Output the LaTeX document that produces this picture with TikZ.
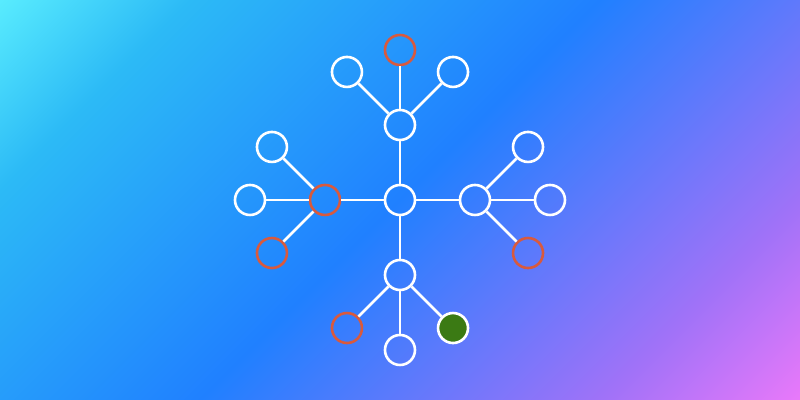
\documentclass[tikz,border=0pt]{standalone}
\usepackage{xcolor}
\usepackage{tikz}
\usetikzlibrary{positioning}

\definecolor{bgcyan}{HTML}{60F4FF}
\definecolor{bgsky}{HTML}{2CBAF6}
\definecolor{bgblue}{HTML}{2080FF}
\definecolor{bgviolet}{HTML}{A072F8}
\definecolor{bgpink}{HTML}{F57AFA}
\definecolor{nodered}{HTML}{D85A3E}
\definecolor{nodegreen}{HTML}{3B7A14}

\pgfdeclarehorizontalshading{bgshade}{100bp}{color(0bp)=(bgcyan); color(12.5bp)=(bgcyan); color(25.7bp)=(bgsky); color(50bp)=(bgblue); color(73.8bp)=(bgviolet); color(87.5bp)=(bgpink); color(100bp)=(bgpink)}

\begin{document}
\begin{tikzpicture}[
    x=0.5pt, y=0.5pt,
    leaf/.style={circle, draw=white, line width=1.3pt, minimum size=15pt, inner sep=0pt},
    redleaf/.style={leaf, draw=nodered},
    greenleaf/.style={leaf, fill=nodegreen},
    link/.style={draw=white, line width=1.3pt}
]

% Background
\shade[shading=bgshade, shading angle=-45] (-400,-200) rectangle (400,200);
\useasboundingbox (-400,-200) rectangle (400,200);

% Nodes
\node[leaf] (root) at (0,0) {};
\node[leaf] (top) at (90:75) {};
\node[redleaf] (left) at (180:75) {};
\node[leaf] (right) at (0:75) {};
\node[leaf] (bottom) at (270:75) {};

\node[leaf] (top_a) at ([shift={(135:75)}]top) {};
\node[redleaf] (top_b) at ([shift={(90:75)}]top) {};
\node[leaf] (top_c) at ([shift={(45:75)}]top) {};

\node[leaf] (left_a) at ([shift={(135:75)}]left) {};
\node[leaf] (left_b) at ([shift={(180:75)}]left) {};
\node[redleaf] (left_c) at ([shift={(225:75)}]left) {};

\node[leaf] (right_a) at ([shift={(45:75)}]right) {};
\node[leaf] (right_b) at ([shift={(0:75)}]right) {};
\node[redleaf] (right_c) at ([shift={(315:75)}]right) {};

\node[redleaf] (bottom_a) at ([shift={(225:75)}]bottom) {};
\node[leaf] (bottom_b) at ([shift={(270:75)}]bottom) {};
\node[greenleaf] (bottom_c) at ([shift={(315:75)}]bottom) {};

% Edges
\draw[link] (root) -- (top);
\draw[link] (root) -- (left);
\draw[link] (root) -- (right);
\draw[link] (root) -- (bottom);
\draw[link] (top) -- (top_a);
\draw[link] (top) -- (top_b);
\draw[link] (top) -- (top_c);
\draw[link] (left) -- (left_a);
\draw[link] (left) -- (left_b);
\draw[link] (left) -- (left_c);
\draw[link] (right) -- (right_a);
\draw[link] (right) -- (right_b);
\draw[link] (right) -- (right_c);
\draw[link] (bottom) -- (bottom_a);
\draw[link] (bottom) -- (bottom_b);
\draw[link] (bottom) -- (bottom_c);

\end{tikzpicture}
\end{document}
